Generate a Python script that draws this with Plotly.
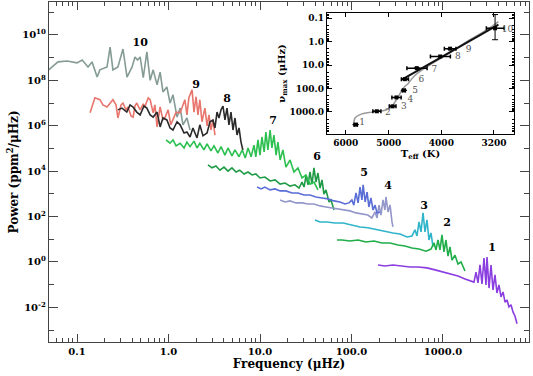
import plotly.graph_objects as go

# ---------------- main spectra (frequency in µHz, power in ppm^2/µHz) -------------
s10_f = [0.049, 0.062, 0.078, 0.10, 0.114, 0.132, 0.146, 0.166, 0.178, 0.213, 0.23, 0.247, 0.28, 0.318,
         0.352, 0.40, 0.43, 0.46, 0.49, 0.53, 0.58, 0.63, 0.68, 0.75, 0.81, 0.87, 0.96, 1.04, 1.12,
         1.24, 1.34, 1.44, 1.59, 1.72]
s10_p = [2.9e8, 6.5e8, 7.1e8, 5.9e8, 7.9e8, 3.9e8, 6.5e8, 1.4e8, 2.9e8, 3.9e8, 2.9e9, 2.9e8, 3.9e8, 2.4e9,
         1.4e8, 3.9e8, 1.07e9, 7.9e8, 1.07e9, 1.3e8, 1.8e9, 1.0e8, 2.9e8, 6.3e7, 2.3e8, 3.1e7, 5.1e7, 1.0e7, 2.3e7,
         2.4e6, 6.0e6, 1.1e6, 2.2e6, 6.5e5]

s9_f = [0.139, 0.157, 0.178, 0.192, 0.213, 0.23, 0.247, 0.267, 0.28, 0.303, 0.318, 0.343, 0.36, 0.39, 0.41,
        0.43, 0.45, 0.49, 0.53, 0.55, 0.60, 0.63, 0.68, 0.71, 0.75, 0.81, 0.87, 0.92, 0.99, 1.06, 1.12, 1.21,
        1.34, 1.44, 1.51, 1.59, 1.67, 1.81, 1.90, 2.0, 2.1, 2.2, 2.32, 2.5, 2.64, 2.77, 2.91, 3.06, 3.22]
s9_p = [3.7e6, 1.7e7, 1.4e7, 8.3e6, 6.7e6, 1.0e7, 1.4e7, 8.3e6, 2.2e6, 8.3e6, 1.0e7, 5.0e6, 6.7e6, 2.7e6, 2.4e6,
        7.4e6, 1.0e7, 5.0e6, 9.1e6, 6.7e6, 1.7e7, 1.4e7, 3.7e6, 8.3e6, 8.9e5, 6.7e6, 1.8e6, 2.4e6, 5.0e6, 1.1e6,
        1.8e6, 4.0e6, 3.7e6, 8.3e6, 1.4e7, 3.0e6, 1.7e7, 3.8e7, 4.0e6, 1.9e7, 3.0e6, 1.4e7, 1.5e6, 6.0e6, 9.8e5,
        3.0e6, 6.5e5, 1.8e6, 3.9e5]

s8_f = [0.28, 0.31, 0.35, 0.38, 0.41, 0.45, 0.49, 0.54, 0.58, 0.63, 0.68, 0.75, 0.81, 0.87, 0.96, 1.04, 1.12,
        1.24, 1.34, 1.48, 1.59, 1.72, 1.85, 2.05, 2.2, 2.38, 2.64, 2.84, 3.06, 3.22, 3.39, 3.56, 3.75, 3.94,
        4.14, 4.36, 4.58, 4.82, 5.07, 5.33, 5.61, 5.9, 6.2, 6.5]
s8_p = [5.0e6, 6.0e6, 4.0e6, 8.3e6, 6.7e6, 4.0e6, 3.0e6, 7.4e6, 6.0e6, 3.0e6, 2.4e6, 4.0e6, 8.9e5, 2.2e6, 1.8e6,
        8.0e5, 6.5e5, 1.5e6, 1.1e6, 4.8e5, 5.3e5, 3.2e5, 8.0e5, 2.9e5, 1.1e6, 3.6e5, 4.8e5, 1.5e6, 1.8e6, 8.0e5,
        4.0e6, 2.2e6, 5.0e6, 7.4e6, 1.8e6, 6.0e6, 1.1e6, 4.0e6, 6.5e5, 2.2e6, 3.9e5, 8.0e5, 1.9e5, 8.6e4]

s7_f = [0.94, 1.04, 1.12, 1.21, 1.34, 1.48, 1.59, 1.72, 1.90, 2.05, 2.2, 2.44, 2.64, 2.91, 3.14, 3.47, 3.75,
        4.14, 4.47, 4.94, 5.33, 5.9, 6.4, 6.9, 7.4, 8.0, 8.6, 9.0, 9.5, 10.0, 10.5, 11.1, 11.6, 12.2, 12.9,
        13.5, 14.2, 15.0, 15.7, 16.6, 17.8, 19.2, 21.3, 23.5, 26.0, 28.8, 31.8, 35.2, 38.9, 43.0]
s7_p = [2.4e5, 1.7e5, 2.4e5, 1.3e5, 1.7e5, 1.05e5, 1.9e5, 1.2e5, 2.1e5, 1.05e5, 1.7e5, 8.6e4, 1.6e5, 7.8e4,
        1.3e5, 6.3e4, 1.2e5, 5.1e4, 1.05e5, 4.7e4, 8.6e4, 4.3e4, 8.6e4, 3.8e4, 1.05e5, 4.3e4, 1.4e5, 4.3e4,
        2.4e5, 5.1e4, 3.2e5, 7.1e4, 5.3e5, 8.6e4, 6.5e5, 1.05e5, 3.9e5, 5.1e4, 1.9e5, 3.1e4, 8.6e4, 1.5e4,
        3.1e4, 9.2e3, 1.4e4, 5.0e3, 6.8e3, 2.7e3, 3.3e3, 1.5e3]

s6_f = [2.7, 2.99, 3.30, 3.65, 4.04, 4.47, 4.94, 5.47, 6.0, 6.7, 7.4, 8.2, 9.0, 10.0, 11.3, 12.9, 14.6, 16.6,
        18.8, 21.3, 24.1, 26.7, 28.8, 30.3, 31.8, 33.5, 35.2, 37.0, 38.9, 40.9, 43.0, 45.3, 47.6, 50.0, 52.6,
        56.8, 59.7, 64.4]
s6_p = [1.9e4, 1.4e4, 1.7e4, 1.1e4, 1.5e4, 1.0e4, 1.4e4, 9.2e3, 1.1e4, 7.5e3, 9.2e3, 6.8e3, 7.5e3, 5.0e3,
        5.5e3, 3.7e3, 4.1e3, 2.7e3, 3.0e3, 2.2e3, 2.5e3, 1.8e3, 3.3e3, 2.0e3, 6.2e3, 2.5e3, 9.2e3, 2.7e3,
        1.4e4, 3.3e3, 8.3e3, 1.8e3, 4.1e3, 980, 1.5e3, 440, 540, 195]

s5_f = [9.3, 10.3, 11.3, 12.9, 14.6, 16.6, 19.2, 22.4, 26.0, 30.3, 35.2, 40.9, 47.6, 55.4, 64.4, 74.9, 84.9,
        94, 101, 106, 112, 118, 124, 130, 134, 141, 148, 155, 163, 172, 181, 190, 205]
s5_p = [2.0e3, 1.65e3, 2.0e3, 1.5e3, 1.65e3, 1.35e3, 1.35e3, 1.1e3, 1.1e3, 890, 890, 730, 660, 600, 490, 440,
        360, 400, 540, 320, 1.1e3, 400, 2.0e3, 540, 2.5e3, 440, 1.2e3, 265, 660, 195, 320, 145, 160]

s4_f = [16.6, 18.8, 21.3, 24.7, 28.8, 33.5, 38.9, 45.3, 52.6, 61.2, 71.1, 82.8, 96.3, 112, 130, 151, 167, 181,
        190, 200, 210, 221, 232, 238, 251, 264, 277, 284]
s4_p = [540, 440, 490, 400, 400, 360, 360, 295, 265, 240, 215, 195, 178, 145, 130, 117, 87, 160, 87, 320, 117,
        540, 195, 730, 160, 320, 58, 35]

s3_f = [39.9, 45.3, 54, 66, 81, 99, 124, 151, 190, 232, 284, 339, 405, 458, 494, 520, 547, 575, 605, 636, 668,
        703, 739, 778]
s3_p = [71, 58, 58, 52, 52, 43, 35, 32, 26, 23, 19, 17, 12.6, 14, 26, 14, 58, 21, 145, 21, 71, 9.3, 19, 4.6]

s2_f = [69.5, 78.8, 96, 118, 144, 176, 215, 264, 322, 384, 458, 547, 652, 739, 798, 838, 882, 927, 975, 1025,
        1078, 1134, 1193, 1254, 1353, 1459, 1574, 1740]
s2_p = [9.3, 9.3, 8.4, 9.3, 7.6, 8.4, 6.9, 6.9, 5.6, 5.1, 4.1, 3.7, 3.0, 3.7, 6.9, 3.4, 9.3, 3.4, 15.5, 2.8,
        9.3, 1.8, 4.6, 1.2, 2.0, 0.82, 1.0, 0.40]

s1_f = [195, 232, 284, 348, 436, 534, 668, 818, 1000, 1222, 1459, 1740, 1972, 2180, 2296, 2414, 2538, 2669,
        2806, 2951, 3027, 3185, 3350, 3520, 3700, 3890, 4090, 4305, 4530, 4765, 5010, 5260, 5540, 5820, 6120,
        6440]
s1_p = [0.74, 0.67, 0.74, 0.67, 0.60, 0.60, 0.55, 0.45, 0.36, 0.30, 0.24, 0.18, 0.145, 0.13, 0.36, 0.12, 0.74,
        0.107, 1.5, 0.098, 1.66, 0.071, 0.74, 0.059, 0.27, 0.043, 0.098, 0.029, 0.048, 0.017, 0.021, 0.0105,
        0.013, 0.0063, 0.0042, 0.0019]

series = [
    ("10", s10_f, s10_p, "#859b95"),
    ("9", s9_f, s9_p, "#e8766c"),
    ("8", s8_f, s8_p, "#2b2b2b"),
    ("6", s6_f, s6_p, "#1f9a45"),
    ("7", s7_f, s7_p, "#2cc050"),
    ("4", s4_f, s4_p, "#9497c9"),
    ("5", s5_f, s5_p, "#5a6ed6"),
    ("3", s3_f, s3_p, "#30b4c9"),
    ("2", s2_f, s2_p, "#20ae4a"),
    ("1", s1_f, s1_p, "#8b3ee0"),
]

label_text = ["10", "9", "8", "7", "6", "5", "4", "3", "2", "1"]
label_f = [0.49, 2.0, 4.36, 13.9, 42, 137, 251, 620, 1106, 3433]
label_p = [4.4e9, 6.3e7, 1.4e7, 1.6e6, 4.2e4, 8.3e3, 2.2e3, 295, 52, 4.1]

# ---------------- inset: nu_max vs Teff ----------------
star_id = ["1", "2", "3", "4", "5", "6", "7", "8", "9", "10"]
star_teff = [5755, 5260, 4920, 4840, 4690, 4670, 4440, 4020, 3855, 3185]
star_numax = [3470, 935, 575, 240, 120, 40, 13.5, 4.3, 2.0, 0.27]
star_teff_err = [40, 90, 70, 95, 30, 70, 190, 170, 95, 120]
star_numax_err_plus = [0, 0, 0, 0, 0, 0, 0, 0, 0, 0.56]
star_numax_err_minus = [0, 0, 0, 0, 0, 0, 0, 0, 0, 0.20]
id_teff = [5600, 5020, 4690, 4560, 4470, 4355, 4120, 3730, 3565, 3020]
id_numax = [2940, 1100, 612, 300, 120, 42, 15.9, 4.6, 2.2, 0.31]

track_teff = [5800, 5770, 5650, 5420, 5190, 5010, 4910, 4800, 4700, 4600, 4505, 4380, 4195, 3910, 3590, 3295, 3140]
track_numax = [2940, 1800, 1300, 1040, 940, 745, 490, 217, 96, 59, 32, 18.7, 9.7, 3.6, 0.99, 0.31, 0.14]
fit_teff = [4730, 3140]
fit_numax = [42, 0.19]

serif = "DejaVu Serif"
fig = go.Figure()

for name, f, p, c in series:
    fig.add_trace(go.Scatter(x=f, y=p, mode="lines", line=dict(color=c, width=1.6),
                             showlegend=False, hoverinfo="skip"))

fig.add_trace(go.Scatter(x=label_f, y=label_p, mode="text", text=label_text,
                         textfont=dict(family=serif, size=11, color="black", weight="bold"),
                         showlegend=False))

# inset traces
fig.add_trace(go.Scatter(x=track_teff, y=track_numax, xaxis="x2", yaxis="y2", mode="lines",
                         line=dict(color="#9a9a9a", width=1.5, shape="spline"), showlegend=False))
fig.add_trace(go.Scatter(x=fit_teff, y=fit_numax, xaxis="x2", yaxis="y2", mode="lines",
                         line=dict(color="#111111", width=2), showlegend=False))
fig.add_trace(go.Scatter(x=star_teff, y=star_numax, xaxis="x2", yaxis="y2", mode="markers",
                         marker=dict(color="black", size=4, symbol="square"),
                         error_x=dict(type="data", array=star_teff_err, color="black", thickness=1.5, width=2),
                         error_y=dict(type="data", symmetric=False, array=star_numax_err_plus,
                                      arrayminus=star_numax_err_minus, color="black", thickness=1, width=3),
                         showlegend=False))
fig.add_trace(go.Scatter(x=id_teff, y=id_numax, xaxis="x2", yaxis="y2", mode="text", text=star_id,
                         textfont=dict(family=serif, size=9, color="#555555"), showlegend=False))

x_minor = [m * 10.0 ** e for e in range(-2, 4) for m in range(2, 10)]
y_minor = [10.0 ** e for e in range(-3, 12, 2)]
inset_y_minor = [m * 10.0 ** e for e in range(-2, 4) for m in range(2, 10)]

tickfont = dict(family=serif, size=10, color="black", weight="bold")
axcommon = dict(showgrid=False, zeroline=False, showline=True, linecolor="#444444", linewidth=1.3,
                mirror="ticks", ticks="inside", tickcolor="#444444", tickwidth=1.2, automargin=False)

fig.update_layout(
    width=533, height=376,
    margin=dict(l=49, r=4, t=2, b=34),
    paper_bgcolor="white", plot_bgcolor="white",
    showlegend=False,
    xaxis=dict(type="log", range=[-1.306, 3.94], tickvals=[0.1, 1, 10, 100, 1000],
               ticktext=["0.1", "1.0", "10.0", "100.0", "1000.0"], ticklen=8,
               minor=dict(tickvals=x_minor, ticklen=4, ticks="inside", tickcolor="#444444"),
               tickfont=tickfont,
               title=dict(text="Frequency (μHz)", font=dict(family=serif, size=12, color="black", weight="bold"),
                          standoff=2),
               **axcommon),
    yaxis=dict(type="log", range=[-3.524, 11.45],
               tickvals=[1e-2, 1, 1e2, 1e4, 1e6, 1e8, 1e10],
               ticktext=["10<sup>-2</sup>", "10<sup>0</sup>", "10<sup>2</sup>", "10<sup>4</sup>",
                         "10<sup>6</sup>", "10<sup>8</sup>", "10<sup>10</sup>"], ticklen=9,
               minor=dict(tickvals=y_minor, ticklen=5, ticks="inside", tickcolor="#444444"),
               tickfont=tickfont,
               title=dict(text="Power (ppm<sup>2</sup>/μHz)",
                          font=dict(family=serif, size=12, color="black", weight="bold"), standoff=0),
               **axcommon),
    xaxis2=dict(type="log", domain=[0.579, 0.969], anchor="y2", range=[3.813, 3.468],
                tickvals=[6000, 5000, 4000, 3200], ticktext=["6000", "5000", "4000", "3200"], ticklen=4,
                tickfont=dict(family=serif, size=9, color="black", weight="bold"),
                title=dict(text="T<sub>eff</sub> (K)", font=dict(family=serif, size=10, color="black", weight="bold"),
                           standoff=2),
                showgrid=False, zeroline=False, showline=True, linecolor="black", linewidth=1.2,
                mirror="ticks", ticks="inside", tickcolor="black", automargin=False),
    yaxis2=dict(type="log", domain=[0.612, 0.968], anchor="x2", range=[3.936, -1.226],
                tickvals=[0.1, 1, 10, 100, 1000], ticktext=["0.1", "1.0", "10.0", "100.0", "1000.0"], ticklen=5,
                minor=dict(tickvals=inset_y_minor, ticklen=2, ticks="inside", tickcolor="black"),
                tickfont=dict(family=serif, size=9, color="black", weight="bold"),
                title=dict(text="ν<sub>max</sub> (μHz)", font=dict(family=serif, size=10, color="black", weight="bold"),
                           standoff=2),
                showgrid=False, zeroline=False, showline=True, linecolor="black", linewidth=1.2,
                mirror="ticks", ticks="inside", tickcolor="black", automargin=False),
)

fig.write_html("out.html", config={"displayModeBar": False},
               post_script="document.body.style.margin='0';")
